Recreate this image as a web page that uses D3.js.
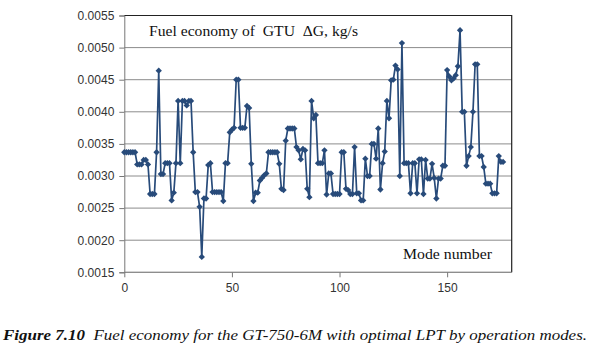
<!DOCTYPE html>
<html>
<head>
<meta charset="utf-8">
<script src="https://cdn.jsdelivr.net/npm/d3@7"></script>
<style>
  body { margin: 0; background: #fff; }
  svg text { white-space: pre; }
</style>
</head>
<body>
<svg id="chart" width="592" height="354"></svg>
<script>
// fuel economy dG, kg/s for each operation mode (mode number = index)
var fuelEconomy = [
  0.00337, 0.00337, 0.00337, 0.00337, 0.00337, 0.00337, 0.00318, 0.00318, 0.00318, 0.00325,
  0.00325, 0.00318, 0.00272, 0.00272, 0.00272, 0.00337, 0.00464, 0.00303, 0.00303, 0.00320,
  0.00320, 0.00320, 0.00262, 0.00274, 0.00320, 0.00417, 0.00320, 0.00417, 0.00417, 0.00410,
  0.00417, 0.00417, 0.00337, 0.00275, 0.00275, 0.00252, 0.00174, 0.00265, 0.00265, 0.00317,
  0.00320, 0.00275, 0.00275, 0.00275, 0.00275, 0.00275, 0.00261, 0.00320, 0.00320, 0.00368,
  0.00372, 0.00375, 0.00450, 0.00450, 0.00375, 0.00375, 0.00375, 0.00409, 0.00406, 0.00319,
  0.00261, 0.00274, 0.00274, 0.00293, 0.00297, 0.00301, 0.00304, 0.00337, 0.00337, 0.00337,
  0.00337, 0.00337, 0.00319, 0.00280, 0.00278, 0.00355, 0.00374, 0.00374, 0.00374, 0.00374,
  0.00345, 0.00340, 0.00326, 0.00342, 0.00340, 0.00280, 0.00267, 0.00417, 0.00390, 0.00395,
  0.00320, 0.00320, 0.00320, 0.00340, 0.00271, 0.00304, 0.00304, 0.00272, 0.00272, 0.00272,
  0.00272, 0.00337, 0.00337, 0.00280, 0.00278, 0.00272, 0.00272, 0.00345, 0.00273, 0.00273,
  0.00262, 0.00262, 0.00327, 0.00300, 0.00300, 0.00350, 0.00350, 0.00327, 0.00374, 0.00279,
  0.00320, 0.00338, 0.00417, 0.00390, 0.00449, 0.00450, 0.00472, 0.00466, 0.00300, 0.00507,
  0.00320, 0.00320, 0.00320, 0.00273, 0.00320, 0.00320, 0.00273, 0.00326, 0.00326, 0.00272,
  0.00325, 0.00296, 0.00296, 0.00319, 0.00297, 0.00265, 0.00296, 0.00296, 0.00316, 0.00316,
  0.00465, 0.00455, 0.00449, 0.00452, 0.00457, 0.00471, 0.00527, 0.00400, 0.00400, 0.00316,
  0.00331, 0.00345, 0.00400, 0.00474, 0.00474, 0.00331, 0.00331, 0.00314, 0.00288, 0.00288,
  0.00288, 0.00273, 0.00273, 0.00273, 0.00331, 0.00322, 0.00322
];
var xTicks = [0, 50, 100, 150];
var yTicks = [0.0015, 0.0020, 0.0025, 0.0030, 0.0035, 0.0040, 0.0045, 0.0050, 0.0055];

var svg = d3.select("#chart");

var x = d3.scaleLinear().domain([0, 180]).range([124.3, 511.7]);
var y = d3.scaleLinear().domain([0.0015, 0.0055]).range([272.3, 15.5]);

var lineColor = "#284b7a";

// gridlines
svg.append("g").selectAll("line").data(yTicks).join("line")
  .attr("x1", x(0)).attr("x2", x(180))
  .attr("y1", function(d) { return y(d); }).attr("y2", function(d) { return y(d); })
  .attr("stroke", "#8c8c8c").attr("stroke-width", 1);

// plot frame (top, right)
svg.append("path")
  .attr("d", "M" + x(0) + "," + y(0.0055) + "H" + x(180) + "V" + y(0.0015))
  .attr("fill", "none").attr("stroke", "#222").attr("stroke-width", 1.2);

// y axis
var yAxis = d3.axisLeft(y).tickValues(yTicks).tickFormat(d3.format(".4f")).tickSize(5).tickPadding(5);
var gy = svg.append("g").attr("transform", "translate(" + x(0) + ",0)").call(yAxis);
gy.select(".domain").attr("stroke", "#777");
gy.selectAll(".tick line").attr("stroke", "#777");
gy.selectAll("text").attr("font-family", "Liberation Sans, Arial, sans-serif").attr("font-size", 12).attr("fill", "#333");

// x axis
var xAxis = d3.axisBottom(x).tickValues(xTicks).tickSize(5).tickPadding(6);
var gx = svg.append("g").attr("transform", "translate(0," + y(0.0015) + ")").call(xAxis);
gx.select(".domain").attr("stroke", "#888").attr("d", "M" + x(0) + ",0H" + x(180));
gx.selectAll(".tick line").attr("stroke", "#777");
gx.selectAll("text").attr("font-family", "Liberation Sans, Arial, sans-serif").attr("font-size", 12).attr("fill", "#333");

// series line
var line = d3.line()
  .x(function(d, i) { return x(i); })
  .y(function(d) { return y(d); });

svg.append("path")
  .datum(fuelEconomy)
  .attr("d", line)
  .attr("fill", "none")
  .attr("stroke", lineColor)
  .attr("stroke-width", 1.7)
  .attr("stroke-linejoin", "round");

// diamond markers
var marker = d3.symbol().type(d3.symbolSquare).size(20);
svg.append("g").selectAll("path").data(fuelEconomy).join("path")
  .attr("d", marker)
  .attr("transform", function(d, i) { return "translate(" + x(i) + "," + y(d) + ") rotate(45)"; })
  .attr("fill", lineColor);

// labels inside plot
svg.append("text")
  .attr("x", 149).attr("y", 36)
  .attr("font-family", "Liberation Serif, Times New Roman, serif")
  .attr("font-size", 15).attr("fill", "#111")
  .attr("textLength", 209).attr("lengthAdjust", "spacingAndGlyphs")
  .text("Fuel economy of  GTU  \u0394G, kg/s");

svg.append("text")
  .attr("x", 403).attr("y", 259)
  .attr("font-family", "Liberation Serif, Times New Roman, serif")
  .attr("font-size", 15).attr("fill", "#111")
  .attr("textLength", 89).attr("lengthAdjust", "spacingAndGlyphs")
  .text("Mode number");

// caption
var cap = svg.append("text")
  .attr("x", 3).attr("y", 340)
  .attr("font-family", "Liberation Serif, Times New Roman, serif")
  .attr("font-size", 15.5).attr("font-style", "italic").attr("fill", "#111")
  .attr("textLength", 584).attr("lengthAdjust", "spacingAndGlyphs");
cap.append("tspan").attr("font-weight", "bold").text("Figure 7.10");
cap.append("tspan").text("  Fuel economy for the GT-750-6M with optimal LPT by operation modes.");
</script>
</body>
</html>
